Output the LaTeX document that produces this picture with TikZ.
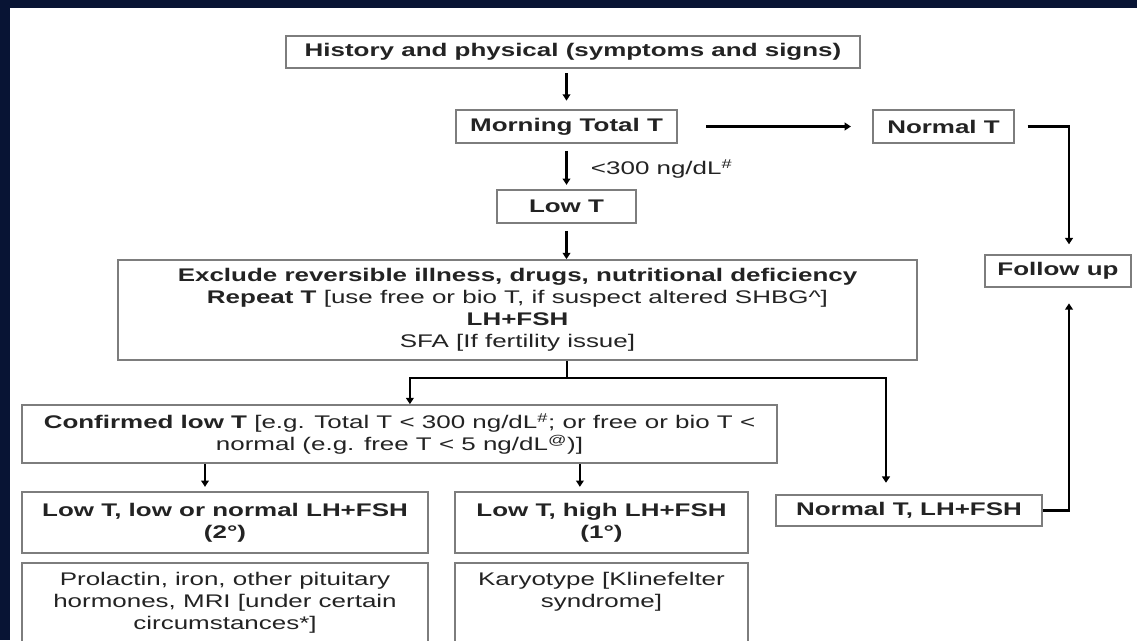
\documentclass[tikz,border=0pt]{standalone}
\usepackage{fontspec}
\setmainfont{Liberation Sans}[FakeStretch=1.42]
\usetikzlibrary{arrows.meta}
\definecolor{slidenavy}{RGB}{8,20,52}
\definecolor{boxgray}{RGB}{125,125,125}
\definecolor{inkgray}{RGB}{35,35,35}
\tikzset{
  flowbox/.style={draw=boxgray, line width=1.2pt, fill=white, text=inkgray,
                  align=center, inner sep=0pt,
                  font=\fontsize{13}{15.6}\selectfont},
  openbox/.style={flowbox, anchor=north, inner ysep=7pt, text depth=3cm},
  flowline/.style={draw=black, line width=1.7pt},
  flowarrow/.style={flowline, -{Triangle[width=5.5pt,length=4.5pt]}},
  notelabel/.style={anchor=west, text=inkgray, font=\fontsize{13}{15.6}\selectfont}
}

\begin{document}
\begin{tikzpicture}[x=0.025cm, y=-0.025cm]
  \useasboundingbox (0,0) rectangle (1137,640);
  \clip (0,0) rectangle (1137,640);
  \fill[white] (0,0) rectangle (1137,640);
  \fill[slidenavy] (0,0) rectangle (1137,8);
  \fill[slidenavy] (0,0) rectangle (10,640);

  \node[flowbox, minimum width=14.33cm, minimum height=0.8cm] (hist) at (573,52)
    {\textbf{History and physical (symptoms and signs)}};
  \node[flowbox, minimum width=5.53cm, minimum height=0.83cm] (morn) at (566.5,126.5)
    {\textbf{Morning Total T}};
  \node[flowbox, minimum width=3.53cm, minimum height=0.83cm] (normt) at (943.5,126.5)
    {\textbf{Normal T}};
  \node[notelabel] (cutoff) at (586,169) {<300 ng/dL\textsuperscript{\#}};
  \node[flowbox, minimum width=3.48cm, minimum height=0.83cm] (lowt) at (566.5,206.5)
    {\textbf{Low T}};
  \node[flowbox, minimum width=19.98cm, minimum height=2.5cm] (excl) at (517.5,310)
    {\textbf{Exclude reversible illness, drugs, nutritional deficiency}\\
     \textbf{Repeat T} [use free or bio T, if suspect altered SHBG\textasciicircum]\\
     \textbf{LH+FSH}\\
     SFA [If fertility issue]};
  \node[flowbox, minimum width=3.65cm, minimum height=0.8cm] (fu) at (1058,271)
    {\textbf{Follow up}};
  \node[flowbox, minimum width=18.88cm, minimum height=1.45cm] (conf) at (399.5,434)
    {\textbf{Confirmed low T} [e.g. Total T < 300 ng/dL\textsuperscript{\#}; or free or bio T <\\
     normal (e.g. free T < 5 ng/dL\textsuperscript{@})]};
  \node[flowbox, minimum width=10.15cm, minimum height=1.53cm] (lowlow) at (225,522.5)
    {\textbf{Low T, low or normal LH+FSH}\\\textbf{(2°)}};
  \node[flowbox, minimum width=7.33cm, minimum height=1.53cm] (lowhigh) at (601.5,522.5)
    {\textbf{Low T, high LH+FSH}\\\textbf{(1°)}};
  \node[flowbox, minimum width=6.65cm, minimum height=0.78cm] (normlh) at (909,510.5)
    {\textbf{Normal T, LH+FSH}};
  \node[openbox, minimum width=10.15cm] (prol) at (225,562)
    {Prolactin, iron, other pituitary\\hormones, MRI [under certain\\circumstances*]};
  \node[openbox, minimum width=7.33cm] (kary) at (601.5,562)
    {Karyotype [Klinefelter\\syndrome]};

  % entry and exit points
  \coordinate (fuin) at ([xshift=0.275cm]fu.north);
  \coordinate (fuout) at ([xshift=0.275cm]fu.south);
  \coordinate (split) at (567,378);
  \coordinate (confin) at ([xshift=0.26cm]conf.north);
  \coordinate (normlhin) at ([xshift=-0.575cm]normlh.north);
  \coordinate (lowlowin) at ([xshift=-0.5cm]lowlow.north);
  \coordinate (lowhighin) at ([xshift=-0.54cm]lowhigh.north);

  \draw[flowarrow, shorten <=3pt, shorten >=6pt] (hist.south -| morn.north) -- (morn.north);
  \draw[flowarrow, shorten <=20pt, shorten >=15pt] (morn.east) -- (normt.west);
  \draw[flowarrow, shorten <=9pt, shorten >=7pt] (normt.east) -| (fuin);
  \draw[flowarrow, shorten <=5pt, shorten >=3pt] (morn.south) -- (lowt.north);
  \draw[flowarrow, shorten <=5pt] (lowt.south) -- (excl.north -| lowt.south);
  \draw[flowline] (excl.south -| split) -- (split);
  \draw[flowarrow] (split) -| (confin);
  \draw[flowarrow, shorten >=8pt] (split) -| (normlhin);
  \draw[flowarrow, shorten >=3pt] (conf.south -| lowlowin) -- (lowlowin);
  \draw[flowarrow, shorten >=3pt] (conf.south -| lowhighin) -- (lowhighin);
  \draw[flowarrow, shorten >=11pt] (normlh.east) -| (fuout);
\end{tikzpicture}
\end{document}
